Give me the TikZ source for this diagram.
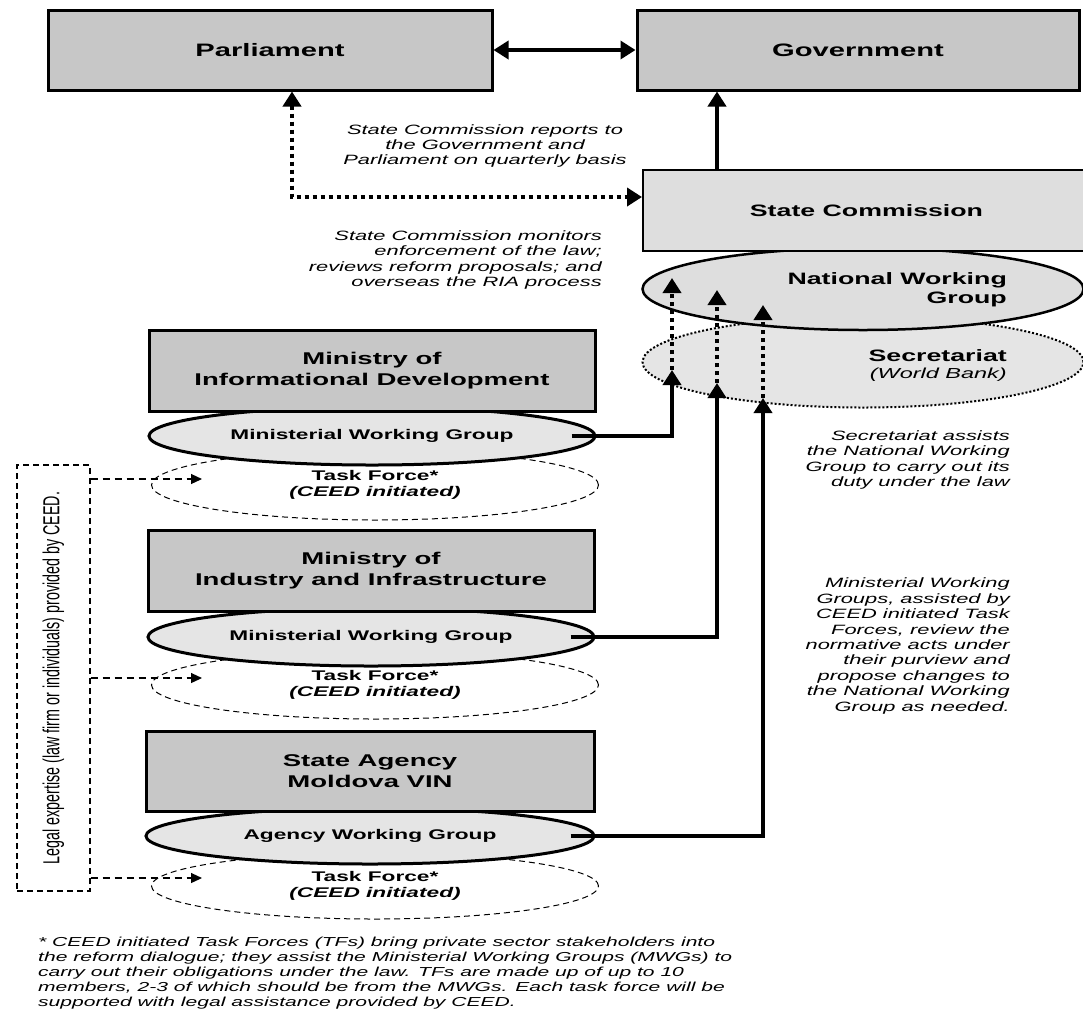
\documentclass[tikz,border=0pt]{standalone}
\usepackage{fontspec}
\setmainfont{Liberation Sans}[FakeStretch=1.62]
\newfontfamily\plainsans{Liberation Sans}
\usetikzlibrary{arrows.meta,shapes.geometric}
\definecolor{boxgray}{gray}{0.78}
\definecolor{dotgray}{gray}{0.87}
\definecolor{ellgray}{gray}{0.90}
\begin{document}
\begin{tikzpicture}[x=1pt,y=-1pt,
    topbox/.style={draw, line width=3pt, fill=boxgray, inner sep=0pt, align=center},
    combox/.style={draw, line width=2pt, fill=dotgray, inner sep=0pt},
    wgell/.style={ellipse, draw, line width=3pt, fill=ellgray, inner sep=0pt, font=\fontsize{14}{16}\selectfont\bfseries},
    tfell/.style={ellipse, draw, line width=1pt, dash pattern=on 6pt off 4pt, fill=white, inner sep=0pt, align=center, font=\fontsize{14}{15.5}\selectfont\bfseries},
    note/.style={inner sep=0pt, font=\fontsize{13.5}{15.4}\selectfont\itshape},
    tip/.tip={Triangle[length=15pt,width=18pt]},
    thickarrow/.style={line width=4pt, -tip},
    dotarrow/.style={line width=4pt, dash pattern=on 4pt off 4pt, -tip},
    legalarrow/.style={line width=1.2pt, dash pattern=on 7pt off 5pt, -{Triangle[length=11pt,width=10pt]}}]
\useasboundingbox (0,0) rectangle (1083,1013);

\node[topbox, minimum width=444, minimum height=80, font=\fontsize{18}{20}\selectfont\bfseries] (parl) at (270,50) {Parliament};
\node[topbox, minimum width=442, minimum height=80, font=\fontsize{18}{20}\selectfont\bfseries] (gov) at (858,50) {Government};
\draw[line width=3.5pt, tip-tip] (parl.east) -- (gov.west);

\node[ellipse, draw, line width=2pt, dash pattern=on 2pt off 2pt, fill=ellgray, minimum width=441, minimum height=91, inner sep=0pt] (secr) at (863,362) {};
\node[ellipse, draw, line width=2.5pt, fill=dotgray, minimum width=441, minimum height=82, inner sep=0pt] (nwg) at (863,289) {};
\node[combox, minimum width=447, minimum height=81, font=\fontsize{16.5}{19}\selectfont\bfseries] (statecom) at (866.5,210.5) {State Commission};
\node[anchor=east, align=right, inner sep=0pt, font=\fontsize{16.5}{19}\selectfont\bfseries] (nwgtext) at (1007,290) {National Working\\Group};
\node[anchor=east, align=right, inner sep=0pt, font=\fontsize{16.5}{17}\selectfont\bfseries] (secrtext) at (1007,366) {Secretariat\\{\fontsize{14.5}{17}\selectfont\mdseries\itshape(World Bank)}};

\coordinate (g) at (717,0);
\draw[thickarrow] (statecom.north -| g) -- (gov.south -| g);
\coordinate (bend) at (292,197);
\draw[line width=4pt, dash pattern=on 4pt off 4pt, tip-tip] (parl.south -| bend) -- (bend) -- (statecom.west |- bend);

\node[note, align=center] (reptext) at (485,146) {State Commission reports to\\the Government and\\Parliament on quarterly basis};
\node[note, align=right, anchor=east] (montext) at (602,260) {State Commission monitors\\enforcement of the law;\\reviews reform proposals; and\\overseas the RIA process};
\node[note, align=right, anchor=east] (secrnote) at (1010,460) {Secretariat assists\\the National Working\\Group to carry out its\\duty under the law};
\node[note, align=right, anchor=east] (mwgnote) at (1010,646) {Ministerial Working\\Groups, assisted by\\CEED initiated Task\\Forces, review the\\normative acts under\\their purview and\\propose changes to\\the National Working\\Group as needed.};

\node[tfell, minimum width=447, minimum height=70] (tf1) at (375,485) {Task Force*\\\textit{(CEED initiated)}};
\node[wgell, minimum width=446, minimum height=58] (mwg1) at (372,436) {Ministerial Working Group};
\node[topbox, minimum width=446, minimum height=81, font=\fontsize{17}{21}\selectfont\bfseries] (min1) at (372,370.5) {Ministry of\\Informational Development};

\node[tfell, minimum width=447, minimum height=68] (tf2) at (375,685) {Task Force*\\\textit{(CEED initiated)}};
\node[wgell, minimum width=446, minimum height=58] (mwg2) at (371,637) {Ministerial Working Group};
\node[topbox, minimum width=446, minimum height=81, font=\fontsize{17}{21}\selectfont\bfseries] (min2) at (371,571) {Ministry of\\Industry and Infrastructure};

\node[tfell, minimum width=447, minimum height=66] (tf3) at (375,886) {Task Force*\\\textit{(CEED initiated)}};
\node[wgell, minimum width=448, minimum height=56] (mwg3) at (370,836) {Agency Working Group};
\node[topbox, minimum width=448, minimum height=80, font=\fontsize{17}{21}\selectfont\bfseries] (min3) at (370,771) {State Agency\\Moldova VIN};

\coordinate (s1) at (672,370); \coordinate (n1) at (672,278);
\coordinate (s2) at (717,383); \coordinate (n2) at (717,290);
\coordinate (s3) at (763,398); \coordinate (n3) at (763,305);
\draw[thickarrow] ([xshift=-25pt]mwg1.east) -| (s1);
\draw[thickarrow] ([xshift=-25pt]mwg2.east) -| (s2);
\draw[thickarrow] ([xshift=-25pt]mwg3.east) -| (s3);
\draw[dotarrow] (s1) -- (n1);
\draw[dotarrow] (s2) -- (n2);
\draw[dotarrow] (s3) -- (n3);

\node[draw, line width=1.2pt, dash pattern=on 6pt off 4pt, minimum width=73, minimum height=426, inner sep=0pt] (legal) at (53.5,678)
  {\rotatebox{90}{\scalebox{1}[1.62]{\plainsans\fontsize{14.3}{16}\selectfont Legal expertise (law firm or individuals) provided by CEED.}}};
\coordinate (la1) at (202,479);
\coordinate (la2) at (202,678);
\coordinate (la3) at (202,878);
\draw[legalarrow] (legal.east |- la1) -- (la1);
\draw[legalarrow] (legal.east |- la2) -- (la2);
\draw[legalarrow] (legal.east |- la3) -- (la3);

\node[anchor=west, align=left, inner sep=0pt, font=\fontsize{13}{15}\selectfont\itshape] (foot) at (38,973) {* CEED initiated Task Forces (TFs) bring private sector stakeholders into\\the reform dialogue; they assist the Ministerial Working Groups (MWGs) to\\carry out their obligations under the law. TFs are made up of up to 10\\members, 2-3 of which should be from the MWGs. Each task force will be\\supported with legal assistance provided by CEED.};
\end{tikzpicture}
\end{document}
